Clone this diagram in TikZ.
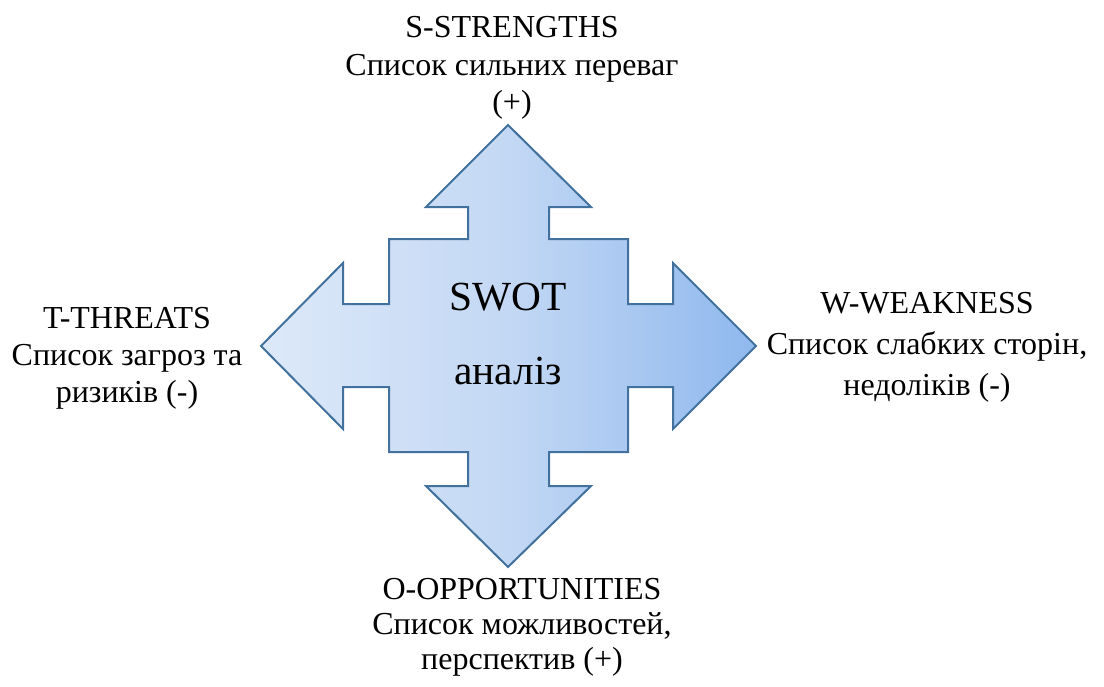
\documentclass[tikz,border=0pt]{standalone}
\usepackage{fontspec}
\setmainfont{Liberation Serif}
\begin{document}
\begin{tikzpicture}[x=0.5pt,y=-0.5pt,
  arrowshape/.style={draw=arrowedge,line width=1pt,line join=miter,
    left color=gradleft,right color=gradright,middle color=gradmid},
  label/.style={anchor=north,align=center,inner sep=0pt,text=black}]
\definecolor{arrowedge}{HTML}{41719C}
\definecolor{gradleft}{HTML}{DDE9F9}
\definecolor{gradmid}{HTML}{C3D8F4}
\definecolor{gradright}{HTML}{8FB8EE}
\useasboundingbox (0,0) rectangle (1104,686);

% four-way arrow with a square hub
\draw[arrowshape]
  (508,125) -- (591,207) -- (549,207) -- (549,239) -- (628,239) -- (628,304)
  -- (673,304) -- (673,263) -- (756,346) -- (673,429) -- (673,387) -- (628,387)
  -- (628,452) -- (549,452) -- (549,486) -- (591,486) -- (508,567) -- (426,486)
  -- (468,486) -- (468,452) -- (389,452) -- (389,387) -- (343,387) -- (343,429)
  -- (261,346) -- (343,263) -- (343,304) -- (389,304) -- (389,239) -- (468,239)
  -- (468,207) -- (426,207) -- cycle;

% hub caption
\node[label,font=\fontsize{20.7}{37}\selectfont] (hub) at (508,283) {SWOT\\аналіз};

% the four quadrants
\node[label,font=\fontsize{16}{18.75}\selectfont] (strengths) at (512,16)
  {S-STRENGTHS\\Список сильних переваг\\(+)};
\node[label,font=\fontsize{16}{18.5}\selectfont] (threats) at (127,307)
  {T-THREATS\\Список загроз та\\ризиків (-)};
\node[label,font=\fontsize{16}{20.5}\selectfont] (weakness) at (927,292)
  {W-WEAKNESS\\Список слабких сторін,\\недоліків (-)};
\node[label,font=\fontsize{16}{17.5}\selectfont] (opportunities) at (522,578)
  {O-OPPORTUNITIES\\Список можливостей,\\перспектив (+)};
\end{tikzpicture}
\end{document}
